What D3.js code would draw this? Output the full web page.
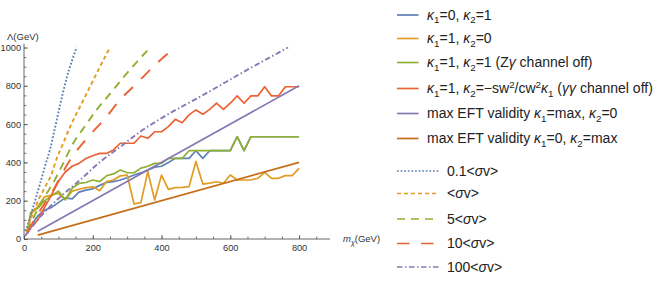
<!DOCTYPE html>
<html lang="en">
<head>
<meta charset="UTF-8">
<title>EFT validity vs relic density</title>
<script src="https://d3js.org/d3.v7.min.js"></script>
<style>
    body {margin: 0; background: #fff;}
    svg text {font-family: "Liberation Sans", Arial, sans-serif;}
</style>
</head>
<body>
<div id="chart"></div>
<script>
// DM mass grid for the scan curves (GeV)
var mGrid = [10,20,40,60,80,100,120,140,160,180,200,220,240,260,280,300,320,340,360,380,400,
             420,440,460,480,500,520,540,560,580,600,620,640,660,680,700,720,740,760,780,800];

// Lambda (GeV) for each scan
var lamK01 = [40,70,120,150,165,190,215,210,245,255,262,280,295,300,308,320,334,345,360,375,380,
              400,421,421,421,461,421,461,461,461,461,534,461,534,534,534,534,534,534,534,534];
var lamK10 = [40,130,170,220,230,238,205,250,260,268,273,252,300,308,330,334,183,190,352,204,334,
              259,268,270,273,405,287,292,299,291,334,308,308,308,317,348,317,317,331,331,369];
var lamK11 = [40,140,160,200,225,250,205,265,290,295,308,300,330,340,360,346,346,370,380,395,395,
              421,421,421,461,461,461,461,461,461,461,534,461,534,534,534,534,534,534,534,534];
var lamKsw = [30,60,100,165,230,300,350,380,395,420,435,447,447,465,500,500,500,538,526,560,560,
              587,625,607,648,674,651,677,709,677,709,747,709,747,747,795,747,747,795,795,795];

// max EFT validity lines
var mEFT = [40, 800];
var lamEFTk1 = [40, 800];
var lamEFTk2 = [20, 400];

// relic density contours
var mSv01 = [5,27,47,61,76,90,105,124,153];
var lamSv01 = [40,169,290,380,470,580,700,840,1000];
var mSv1 = [8,22,42,61,81,95,110,134,163,192,221,250];
var lamSv1 = [38,117,204,270,343,420,482,586,691,795,900,1000];
var mSv5 = [10,30,60,90,114,143,173,211,255,299,362];
var lamSv5 = [40,120,220,310,395,500,578,674,769,865,990];
var mSv10 = [10,40,80,134,187,236,279,333,381,440];
var lamSv10 = [35,130,240,413,534,630,726,822,909,1000];
var mSv100 = [3,47,105,163,221,279,337,396,521,649,768];
var lamSv100 = [16,115,219,308,402,480,559,627,752,883,1000];

var xTicks = [0,200,400,600,800];
var yTicks = [0,200,400,600,800,1000];

var width = 664, height = 284;

var svg = d3.select("#chart").append("svg")
    .attr("width", width)
    .attr("height", height);

var xScale = d3.scaleLinear().domain([0, 890]).range([24, 330]);
var yScale = d3.scaleLinear().domain([0, 1000]).range([239, 47.5]);

var axisColor = "#555";

// minor ticks first
var xMinor = d3.axisBottom(xScale).tickValues(d3.range(0, 851, 50)).tickSize(-2.5).tickFormat("");
var yMinor = d3.axisLeft(yScale).tickValues(d3.range(0, 1001, 50)).tickSize(-2.5).tickFormat("");

var gxm = svg.append("g").attr("transform", "translate(0," + yScale(0) + ")").call(xMinor);
var gym = svg.append("g").attr("transform", "translate(" + xScale(0) + ",0)").call(yMinor);

var xAxis = d3.axisBottom(xScale).tickValues(xTicks).tickSize(-4).tickPadding(5)
    .tickFormat(d3.format("d"));
var yAxis = d3.axisLeft(yScale).tickValues(yTicks).tickSize(-4).tickPadding(3)
    .tickFormat(d3.format("d"));

var gx = svg.append("g").attr("transform", "translate(0," + yScale(0) + ")").call(xAxis);
var gy = svg.append("g").attr("transform", "translate(" + xScale(0) + ",0)").call(yAxis);

[gxm, gym, gx, gy].forEach(function(g){
    g.select(".domain").remove();
    g.selectAll("line").attr("stroke", axisColor).attr("stroke-width", 0.8);
    g.selectAll("text").attr("fill", "#333").attr("font-size", "9.2px")
        .attr("font-family", "Liberation Sans, Arial, sans-serif");
});

// axis lines
svg.append("line")
    .attr("x1", xScale(0)).attr("x2", xScale(890))
    .attr("y1", yScale(0)).attr("y2", yScale(0))
    .attr("stroke", axisColor).attr("stroke-width", 0.9);
svg.append("line")
    .attr("x1", xScale(0)).attr("x2", xScale(0))
    .attr("y1", yScale(0)).attr("y2", yScale(1020))
    .attr("stroke", axisColor).attr("stroke-width", 0.9);

// axis labels
svg.append("text").attr("x", 7).attr("y", 40).attr("font-size", "9.5px").attr("fill", "#333")
    .text("\u039B(GeV)");
var xl = svg.append("text").attr("x", 343).attr("y", 242).attr("font-size", "9.5px").attr("fill", "#333");
xl.append("tspan").attr("font-style", "italic").text("m");
xl.append("tspan").attr("font-style", "italic").attr("font-size", "7px").attr("dy", 2.5).text("\u03C7");
xl.append("tspan").attr("dy", -2.5).text("(GeV)");

// series
var colors = {
    blue: "#5E81B5", orange: "#E19C24", green: "#8FB032",
    red: "#EB6235", purple: "#8778B3", brown: "#C56E1A"
};

function pairs(xs, ys) {
    return xs.map(function(x, i){ return [x, ys[i]]; });
}

var solidLine = d3.line()
    .x(function(d){ return xScale(d[0]); })
    .y(function(d){ return yScale(d[1]); });

var smoothLine = d3.line()
    .curve(d3.curveMonotoneX)
    .x(function(d){ return xScale(d[0]); })
    .y(function(d){ return yScale(d[1]); });

var solids = [
    {m: mGrid, lam: lamK01, color: colors.blue},
    {m: mGrid, lam: lamK10, color: colors.orange},
    {m: mGrid, lam: lamK11, color: colors.green},
    {m: mGrid, lam: lamKsw, color: colors.red},
    {m: mEFT, lam: lamEFTk1, color: colors.purple},
    {m: mEFT, lam: lamEFTk2, color: colors.brown}
];

var dashes = [
    {m: mSv01, lam: lamSv01, color: colors.blue, dash: "1.8,1.8"},
    {m: mSv1, lam: lamSv1, color: colors.orange, dash: "4,3"},
    {m: mSv5, lam: lamSv5, color: colors.green, dash: "8,6"},
    {m: mSv10, lam: lamSv10, color: colors.red, dash: "12.5,11.5"},
    {m: mSv100, lam: lamSv100, color: colors.purple, dash: "5.5,2.5,1.5,2.5"}
];

solids.forEach(function(s){
    svg.append("path")
        .attr("d", solidLine(pairs(s.m, s.lam)))
        .attr("fill", "none")
        .attr("stroke", s.color)
        .attr("stroke-width", 1.7)
        .attr("stroke-linejoin", "round");
});

dashes.forEach(function(s){
    svg.append("path")
        .attr("d", smoothLine(pairs(s.m, s.lam)))
        .attr("fill", "none")
        .attr("stroke", s.color)
        .attr("stroke-width", 1.9)
        .attr("stroke-dasharray", s.dash);
});

// legend
var legendItems = [
    {color: colors.blue, parts: [["\u03BA","i"],["1","sub"],["=0, "],["\u03BA","i"],["2","sub"],["=1"]]},
    {color: colors.orange, parts: [["\u03BA","i"],["1","sub"],["=1, "],["\u03BA","i"],["2","sub"],["=0"]]},
    {color: colors.green, parts: [["\u03BA","i"],["1","sub"],["=1, "],["\u03BA","i"],["2","sub"],["=1 (Z"],["\u03B3","i"],[" channel off)"]]},
    {color: colors.red, parts: [["\u03BA","i"],["1","sub"],["=1, "],["\u03BA","i"],["2","sub"],["=\u2212sw"],["2","sup"],["/cw"],["2","sup"],["\u03BA","i"],["1","sub"],[" ("],["\u03B3\u03B3","i"],[" channel off)"]]},
    {color: colors.purple, parts: [["max EFT validity "],["\u03BA","i"],["1","sub"],["=max, "],["\u03BA","i"],["2","sub"],["=0"]]},
    {color: colors.brown, parts: [["max EFT validity "],["\u03BA","i"],["1","sub"],["=0, "],["\u03BA","i"],["2","sub"],["=max"]]}
];
var legendY = [15, 38.5, 62.5, 88.5, 113.5, 138.5];

var dashItems = [
    {color: colors.blue, dash: "1.8,1.8", parts: [["0.1<"],["\u03C3","i"],["v>"]]},
    {color: colors.orange, dash: "4,3", parts: [["<"],["\u03C3","i"],["v>"]]},
    {color: colors.green, dash: "8,6", parts: [["5<"],["\u03C3","i"],["v>"]]},
    {color: colors.red, dash: "12.5,11.5", parts: [["10<"],["\u03C3","i"],["v>"]]},
    {color: colors.purple, dash: "5.5,2.5,1.5,2.5", parts: [["100<"],["\u03C3","i"],["v>"]]}
];
var dashY = [171, 193.5, 219, 243.5, 267];

function writeParts(textSel, parts) {
    var shift = 0;
    parts.forEach(function(p){
        var t = textSel.append("tspan").text(p[0]);
        var target = 0;
        if (p[1] === "i") t.attr("font-style", "italic");
        if (p[1] === "sub") { t.attr("font-size", "9.8px"); target = 3.5; }
        if (p[1] === "sup") { t.attr("font-size", "9.8px"); target = -5; }
        if (target !== shift) { t.attr("dy", target - shift); shift = target; }
    });
}

legendItems.forEach(function(item, i){
    var y = legendY[i];
    svg.append("line")
        .attr("x1", 397).attr("x2", 418.5).attr("y1", y).attr("y2", y)
        .attr("stroke", item.color).attr("stroke-width", 1.7);
    var t = svg.append("text").attr("x", 427).attr("y", y + 4.8)
        .attr("font-size", "14px").attr("fill", "#222");
    writeParts(t, item.parts);
});

dashItems.forEach(function(item, i){
    var y = dashY[i];
    svg.append("line")
        .attr("x1", 397).attr("x2", 438.5).attr("y1", y).attr("y2", y)
        .attr("stroke", item.color).attr("stroke-width", 1.7)
        .attr("stroke-dasharray", item.dash);
    var t = svg.append("text").attr("x", 447).attr("y", y + 4.8)
        .attr("font-size", "14px").attr("fill", "#222");
    writeParts(t, item.parts);
});
</script>
</body>
</html>
